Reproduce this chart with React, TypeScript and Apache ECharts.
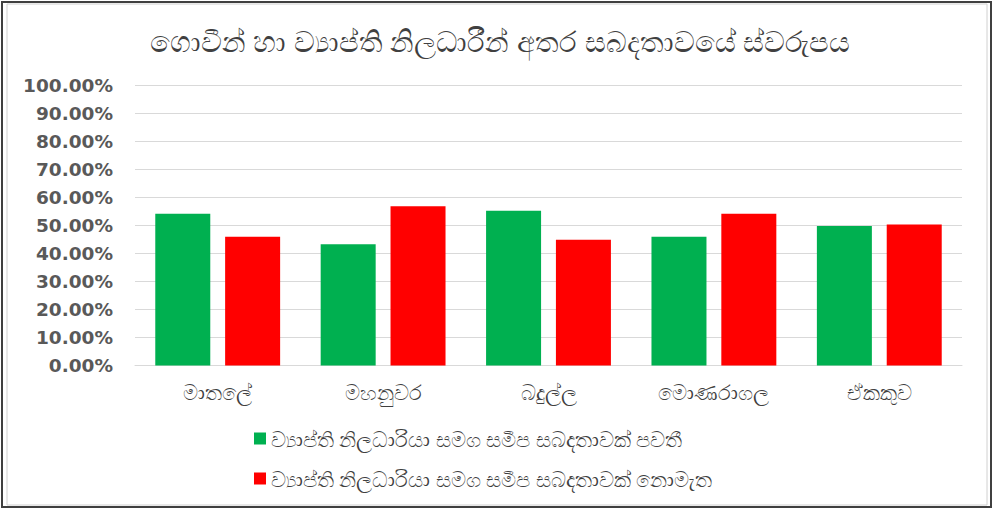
import React, { useEffect, useRef } from "react";
import * as echarts from "echarts";

const titleText = "ගොවීන් හා ව්‍යාප්ති නිලධාරීන් අතර සබදතාවයේ ස්වරුපය";
const categories = ["මාතලේ", "මහනුවර", "බදුල්ල", "මොණරාගල", "ඒකකුව"];
const seriesNames = [
  "ව්‍යාප්ති නිලධාරියා සමග සමීප සබදතාවක් පවතී",
  "ව්‍යාප්ති නිලධාරියා සමග සමීප සබදතාවක් නොමැත",
];
const closeValues = [54.1, 43.2, 55.2, 45.9, 49.7];
const notCloseValues = [45.9, 56.8, 44.8, 54.1, 50.3];
const yTicks = { min: 0, max: 100, interval: 10 };

export default function App() {
  const ref = useRef<HTMLDivElement>(null);
  useEffect(() => {
    if (!ref.current) return;
    const chart = echarts.init(ref.current, null, { renderer: "svg" });
    const font = "'Noto Sans', 'DejaVu Sans', sans-serif";
    chart.setOption({
      animation: false,
      backgroundColor: "#ffffff",
      title: {
        text: titleText,
        left: 500,
        textAlign: "center",
        top: 26,
        padding: 0,
        textStyle: { fontFamily: font, fontSize: 29, fontWeight: "normal", color: "#404040" },
      },
      graphic: [
        {
          type: "rect",
          shape: { x: 2, y: 2, width: 989, height: 505 },
          style: { fill: "none", stroke: "#404040", lineWidth: 2 },
          silent: true,
        },
        {
          type: "rect",
          shape: { x: 7, y: 4, width: 980, height: 501 },
          style: { fill: "none", stroke: "#d0d0d0", lineWidth: 1 },
          silent: true,
        },
      ],
      grid: { left: 135, right: 31, top: 85, bottom: 143.5, containLabel: false },
      legend: {
        orient: "vertical",
        left: 254,
        top: 428,
        padding: 0,
        itemWidth: 12,
        itemHeight: 12,
        itemGap: 19,
        icon: "rect",
        textStyle: { fontFamily: font, fontSize: 21, color: "#404040" },
        data: seriesNames,
      },
      xAxis: {
        type: "category",
        data: categories,
        axisLine: { lineStyle: { color: "#d9d9d9" } },
        axisTick: { show: false },
        axisLabel: { fontFamily: font, fontSize: 21, color: "#404040", margin: 16 },
      },
      yAxis: {
        type: "value",
        min: yTicks.min,
        max: yTicks.max,
        interval: yTicks.interval,
        axisLine: { show: false },
        axisTick: { show: false },
        splitLine: { lineStyle: { color: "#d9d9d9" } },
        axisLabel: {
          fontFamily: "'DejaVu Sans', sans-serif",
          fontSize: 18.5,
          fontWeight: "bold",
          color: "#595959",
          margin: 22,
          formatter: (v: number) => v.toFixed(2) + "%",
        },
      },
      series: [
        {
          name: seriesNames[0],
          type: "bar",
          data: closeValues,
          barWidth: 55,
          barGap: "27%",
          itemStyle: { color: "#00B050" },
        },
        {
          name: seriesNames[1],
          type: "bar",
          data: notCloseValues,
          barWidth: 55,
          barGap: "27%",
          itemStyle: { color: "#FF0000" },
        },
      ],
    });
    return () => chart.dispose();
  }, []);
  return (
    <div style={{ position: "fixed", left: 0, top: 0, width: 993, height: 509 }}>
      <div ref={ref} style={{ width: 993, height: 509 }} />
    </div>
  );
}
